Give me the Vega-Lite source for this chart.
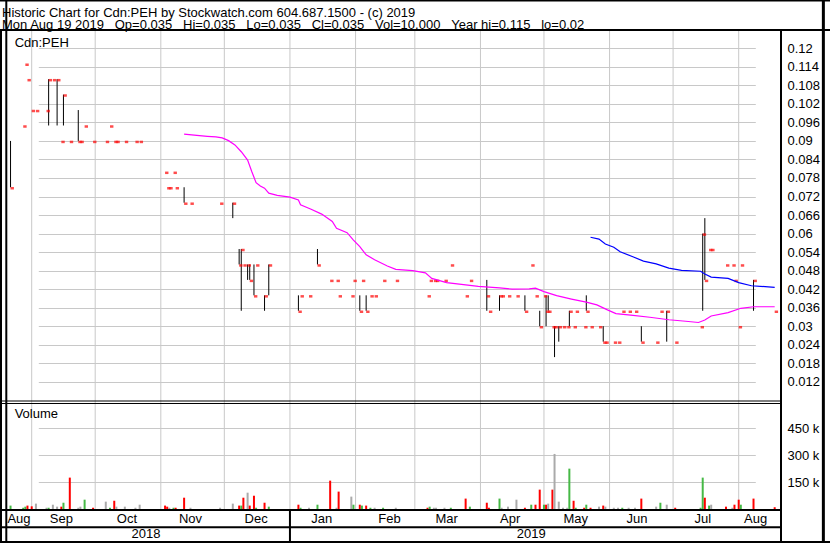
{
  "$schema": "https://vega.github.io/schema/vega-lite/v6.json",
  "width": 780,
  "height": 513,
  "autosize": {"type": "none"},
  "padding": {"left": 1, "top": 30, "right": 49, "bottom": 0},
  "background": "#ffffff",
  "config": {
    "font": "Liberation Sans",
    "view": {"stroke": "#000000", "strokeWidth": 2}
  },
  "title": {
    "text": [
      "Historic Chart for Cdn:PEH by Stockwatch.com 604.687.1500 - (c) 2019",
      "Mon Aug 19 2019\u00a0\u00a0\u00a0Op=0.035\u00a0\u00a0\u00a0Hi=0.035\u00a0\u00a0\u00a0Lo=0.035\u00a0\u00a0\u00a0Cl=0.035\u00a0\u00a0\u00a0Vol=10,000\u00a0\u00a0\u00a0Year hi=0.115\u00a0\u00a0\u00a0lo=0.02"
    ],
    "anchor": "start",
    "frame": "group",
    "orient": "top",
    "offset": -43,
    "dx": 1,
    "font": "Liberation Sans",
    "fontSize": 13,
    "fontWeight": "normal",
    "color": "#000000",
    "lineHeight": 12.4,
    "baseline": "alphabetic"
  },
  "datasets": {
    "daily": [
      {"date": "2018-08-22", "high": 0.09, "low": 0.075, "close": 0.075, "volume": 19000, "change": "up"},
      {"date": "2018-08-28", "high": 0.095, "low": 0.095, "close": 0.095, "volume": 7000, "change": "up"},
      {"date": "2018-08-29", "high": 0.115, "low": 0.115, "close": 0.115, "volume": 13000, "change": "up"},
      {"date": "2018-08-30", "high": 0.11, "low": 0.11, "close": 0.11, "volume": 19000, "change": "down"},
      {"date": "2018-09-01", "high": 0.1, "low": 0.1, "close": 0.1, "volume": 15000, "change": "down"},
      {"date": "2018-09-03", "high": 0.1, "low": 0.1, "close": 0.1, "volume": 30000, "change": "unchanged"},
      {"date": "2018-09-08", "high": 0.1, "low": 0.1, "close": 0.1, "volume": 7000, "change": "unchanged"},
      {"date": "2018-09-09", "high": 0.11, "low": 0.095, "close": 0.11, "volume": 7000, "change": "up"},
      {"date": "2018-09-11", "high": 0.11, "low": 0.11, "close": 0.11, "volume": 24000, "change": "unchanged"},
      {"date": "2018-09-13", "high": 0.11, "low": 0.095, "close": 0.11, "volume": 13000, "change": "unchanged"},
      {"date": "2018-09-15", "high": 0.09, "low": 0.09, "close": 0.09, "volume": 13000, "change": "down"},
      {"date": "2018-09-16", "high": 0.105, "low": 0.095, "close": 0.105, "volume": 35000, "change": "up"},
      {"date": "2018-09-19", "high": 0.09, "low": 0.09, "close": 0.09, "volume": 175000, "change": "down"},
      {"date": "2018-09-23", "high": 0.1, "low": 0.09, "close": 0.09, "volume": 7000, "change": "unchanged"},
      {"date": "2018-09-24", "high": 0.09, "low": 0.09, "close": 0.09, "volume": 13000, "change": "unchanged"},
      {"date": "2018-09-26", "high": 0.095, "low": 0.095, "close": 0.095, "volume": 52000, "change": "up"},
      {"date": "2018-09-30", "high": 0.09, "low": 0.09, "close": 0.09, "volume": 7000, "change": "down"},
      {"date": "2018-10-06", "high": 0.09, "low": 0.09, "close": 0.09, "volume": 41000, "change": "unchanged"},
      {"date": "2018-10-08", "high": 0.095, "low": 0.095, "close": 0.095, "volume": 7000, "change": "up"},
      {"date": "2018-10-10", "high": 0.09, "low": 0.09, "close": 0.09, "volume": 46000, "change": "down"},
      {"date": "2018-10-11", "high": 0.09, "low": 0.09, "close": 0.09, "volume": 13000, "change": "unchanged"},
      {"date": "2018-10-15", "high": 0.09, "low": 0.09, "close": 0.09, "volume": 13000, "change": "unchanged"},
      {"date": "2018-10-20", "high": 0.09, "low": 0.09, "close": 0.09, "volume": 7000, "change": "unchanged"},
      {"date": "2018-10-22", "high": 0.09, "low": 0.09, "close": 0.09, "volume": 24000, "change": "unchanged"},
      {"date": "2018-11-03", "high": 0.08, "low": 0.08, "close": 0.08, "volume": 19000, "change": "down"},
      {"date": "2018-11-04", "high": 0.075, "low": 0.075, "close": 0.075, "volume": 13000, "change": "down"},
      {"date": "2018-11-05", "high": 0.075, "low": 0.075, "close": 0.075, "volume": 7000, "change": "unchanged"},
      {"date": "2018-11-07", "high": 0.08, "low": 0.08, "close": 0.08, "volume": 7000, "change": "up"},
      {"date": "2018-11-08", "high": 0.075, "low": 0.075, "close": 0.075, "volume": 7000, "change": "down"},
      {"date": "2018-11-12", "high": 0.075, "low": 0.07, "close": 0.07, "volume": 63000, "change": "down"},
      {"date": "2018-11-15", "high": 0.07, "low": 0.07, "close": 0.07, "volume": 7000, "change": "unchanged"},
      {"date": "2018-11-29", "high": 0.07, "low": 0.07, "close": 0.07, "volume": 7000, "change": "unchanged"},
      {"date": "2018-12-05", "high": 0.07, "low": 0.065, "close": 0.07, "volume": 30000, "change": "unchanged"},
      {"date": "2018-12-08", "high": 0.055, "low": 0.05, "close": 0.05, "volume": 19000, "change": "down"},
      {"date": "2018-12-09", "high": 0.055, "low": 0.035, "close": 0.055, "volume": 19000, "change": "up"},
      {"date": "2018-12-10", "high": 0.05, "low": 0.05, "close": 0.05, "volume": 63000, "change": "down"},
      {"date": "2018-12-12", "high": 0.05, "low": 0.045, "close": 0.05, "volume": 91000, "change": "unchanged"},
      {"date": "2018-12-13", "high": 0.05, "low": 0.045, "close": 0.045, "volume": 19000, "change": "down"},
      {"date": "2018-12-15", "high": 0.05, "low": 0.04, "close": 0.04, "volume": 74000, "change": "down"},
      {"date": "2018-12-16", "high": 0.05, "low": 0.05, "close": 0.05, "volume": 7000, "change": "up"},
      {"date": "2018-12-20", "high": 0.04, "low": 0.035, "close": 0.04, "volume": 35000, "change": "down"},
      {"date": "2018-12-22", "high": 0.05, "low": 0.04, "close": 0.05, "volume": 13000, "change": "up"},
      {"date": "2019-01-05", "high": 0.04, "low": 0.035, "close": 0.035, "volume": 24000, "change": "down"},
      {"date": "2019-01-06", "high": 0.04, "low": 0.04, "close": 0.04, "volume": 7000, "change": "up"},
      {"date": "2019-01-10", "high": 0.04, "low": 0.04, "close": 0.04, "volume": 7000, "change": "unchanged"},
      {"date": "2019-01-14", "high": 0.055, "low": 0.05, "close": 0.05, "volume": 24000, "change": "up"},
      {"date": "2019-01-20", "high": 0.045, "low": 0.045, "close": 0.045, "volume": 158000, "change": "down"},
      {"date": "2019-01-23", "high": 0.045, "low": 0.045, "close": 0.045, "volume": 7000, "change": "unchanged"},
      {"date": "2019-01-24", "high": 0.04, "low": 0.04, "close": 0.04, "volume": 97000, "change": "down"},
      {"date": "2019-01-30", "high": 0.04, "low": 0.04, "close": 0.04, "volume": 69000, "change": "unchanged"},
      {"date": "2019-01-31", "high": 0.045, "low": 0.045, "close": 0.045, "volume": 24000, "change": "up"},
      {"date": "2019-02-03", "high": 0.04, "low": 0.035, "close": 0.035, "volume": 24000, "change": "down"},
      {"date": "2019-02-04", "high": 0.045, "low": 0.045, "close": 0.045, "volume": 19000, "change": "up"},
      {"date": "2019-02-06", "high": 0.04, "low": 0.035, "close": 0.035, "volume": 19000, "change": "down"},
      {"date": "2019-02-08", "high": 0.04, "low": 0.04, "close": 0.04, "volume": 7000, "change": "up"},
      {"date": "2019-02-10", "high": 0.04, "low": 0.04, "close": 0.04, "volume": 7000, "change": "unchanged"},
      {"date": "2019-02-14", "high": 0.045, "low": 0.045, "close": 0.045, "volume": 7000, "change": "up"},
      {"date": "2019-02-20", "high": 0.045, "low": 0.045, "close": 0.045, "volume": 7000, "change": "unchanged"},
      {"date": "2019-03-07", "high": 0.04, "low": 0.04, "close": 0.04, "volume": 7000, "change": "down"},
      {"date": "2019-03-08", "high": 0.045, "low": 0.045, "close": 0.045, "volume": 13000, "change": "up"},
      {"date": "2019-03-10", "high": 0.045, "low": 0.045, "close": 0.045, "volume": 7000, "change": "unchanged"},
      {"date": "2019-03-11", "high": 0.045, "low": 0.045, "close": 0.045, "volume": 7000, "change": "unchanged"},
      {"date": "2019-03-15", "high": 0.045, "low": 0.045, "close": 0.045, "volume": 7000, "change": "unchanged"},
      {"date": "2019-03-18", "high": 0.05, "low": 0.05, "close": 0.05, "volume": 7000, "change": "up"},
      {"date": "2019-03-25", "high": 0.04, "low": 0.04, "close": 0.04, "volume": 58000, "change": "down"},
      {"date": "2019-03-27", "high": 0.045, "low": 0.045, "close": 0.045, "volume": 13000, "change": "up"},
      {"date": "2019-04-04", "high": 0.045, "low": 0.035, "close": 0.04, "volume": 35000, "change": "down"},
      {"date": "2019-04-05", "high": 0.035, "low": 0.035, "close": 0.035, "volume": 7000, "change": "down"},
      {"date": "2019-04-10", "high": 0.04, "low": 0.035, "close": 0.04, "volume": 58000, "change": "up"},
      {"date": "2019-04-11", "high": 0.04, "low": 0.04, "close": 0.04, "volume": 7000, "change": "unchanged"},
      {"date": "2019-04-14", "high": 0.04, "low": 0.04, "close": 0.04, "volume": 13000, "change": "unchanged"},
      {"date": "2019-04-18", "high": 0.04, "low": 0.04, "close": 0.04, "volume": 52000, "change": "unchanged"},
      {"date": "2019-04-22", "high": 0.04, "low": 0.035, "close": 0.035, "volume": 7000, "change": "down"},
      {"date": "2019-04-25", "high": 0.05, "low": 0.05, "close": 0.05, "volume": 24000, "change": "up"},
      {"date": "2019-04-27", "high": 0.04, "low": 0.04, "close": 0.04, "volume": 24000, "change": "down"},
      {"date": "2019-04-29", "high": 0.035, "low": 0.03, "close": 0.03, "volume": 108000, "change": "down"},
      {"date": "2019-05-01", "high": 0.04, "low": 0.04, "close": 0.04, "volume": 24000, "change": "up"},
      {"date": "2019-05-02", "high": 0.04, "low": 0.03, "close": 0.035, "volume": 24000, "change": "down"},
      {"date": "2019-05-03", "high": 0.04, "low": 0.035, "close": 0.035, "volume": 30000, "change": "unchanged"},
      {"date": "2019-05-05", "high": 0.03, "low": 0.03, "close": 0.03, "volume": 108000, "change": "down"},
      {"date": "2019-05-06", "high": 0.03, "low": 0.02, "close": 0.03, "volume": 307000, "change": "unchanged"},
      {"date": "2019-05-08", "high": 0.03, "low": 0.025, "close": 0.03, "volume": 41000, "change": "unchanged"},
      {"date": "2019-05-10", "high": 0.03, "low": 0.03, "close": 0.03, "volume": 7000, "change": "unchanged"},
      {"date": "2019-05-12", "high": 0.03, "low": 0.03, "close": 0.03, "volume": 7000, "change": "unchanged"},
      {"date": "2019-05-13", "high": 0.035, "low": 0.03, "close": 0.035, "volume": 225000, "change": "up"},
      {"date": "2019-05-15", "high": 0.03, "low": 0.03, "close": 0.03, "volume": 46000, "change": "down"},
      {"date": "2019-05-16", "high": 0.035, "low": 0.035, "close": 0.035, "volume": 7000, "change": "up"},
      {"date": "2019-05-20", "high": 0.03, "low": 0.03, "close": 0.03, "volume": 7000, "change": "down"},
      {"date": "2019-05-21", "high": 0.04, "low": 0.035, "close": 0.035, "volume": 24000, "change": "up"},
      {"date": "2019-05-23", "high": 0.03, "low": 0.03, "close": 0.03, "volume": 7000, "change": "down"},
      {"date": "2019-05-27", "high": 0.03, "low": 0.03, "close": 0.03, "volume": 13000, "change": "unchanged"},
      {"date": "2019-05-29", "high": 0.03, "low": 0.025, "close": 0.025, "volume": 19000, "change": "down"},
      {"date": "2019-05-30", "high": 0.025, "low": 0.025, "close": 0.025, "volume": 13000, "change": "unchanged"},
      {"date": "2019-06-03", "high": 0.025, "low": 0.025, "close": 0.025, "volume": 7000, "change": "unchanged"},
      {"date": "2019-06-05", "high": 0.025, "low": 0.025, "close": 0.025, "volume": 7000, "change": "unchanged"},
      {"date": "2019-06-07", "high": 0.035, "low": 0.035, "close": 0.035, "volume": 7000, "change": "up"},
      {"date": "2019-06-10", "high": 0.035, "low": 0.035, "close": 0.035, "volume": 7000, "change": "unchanged"},
      {"date": "2019-06-13", "high": 0.035, "low": 0.035, "close": 0.035, "volume": 7000, "change": "unchanged"},
      {"date": "2019-06-16", "high": 0.03, "low": 0.025, "close": 0.025, "volume": 58000, "change": "down"},
      {"date": "2019-06-23", "high": 0.025, "low": 0.025, "close": 0.025, "volume": 13000, "change": "unchanged"},
      {"date": "2019-06-25", "high": 0.035, "low": 0.035, "close": 0.035, "volume": 35000, "change": "up"},
      {"date": "2019-06-28", "high": 0.035, "low": 0.025, "close": 0.035, "volume": 24000, "change": "unchanged"},
      {"date": "2019-07-02", "high": 0.025, "low": 0.025, "close": 0.025, "volume": 7000, "change": "down"},
      {"date": "2019-07-14", "high": 0.03, "low": 0.03, "close": 0.03, "volume": 7000, "change": "up"},
      {"date": "2019-07-15", "high": 0.06, "low": 0.035, "close": 0.06, "volume": 175000, "change": "up"},
      {"date": "2019-07-16", "high": 0.065, "low": 0.045, "close": 0.045, "volume": 63000, "change": "down"},
      {"date": "2019-07-18", "high": 0.055, "low": 0.055, "close": 0.055, "volume": 19000, "change": "up"},
      {"date": "2019-07-19", "high": 0.055, "low": 0.055, "close": 0.055, "volume": 24000, "change": "unchanged"},
      {"date": "2019-07-26", "high": 0.05, "low": 0.05, "close": 0.05, "volume": 13000, "change": "down"},
      {"date": "2019-07-29", "high": 0.05, "low": 0.05, "close": 0.05, "volume": 7000, "change": "unchanged"},
      {"date": "2019-07-30", "high": 0.045, "low": 0.045, "close": 0.045, "volume": 24000, "change": "down"},
      {"date": "2019-08-01", "high": 0.03, "low": 0.03, "close": 0.03, "volume": 52000, "change": "down"},
      {"date": "2019-08-02", "high": 0.05, "low": 0.05, "close": 0.05, "volume": 24000, "change": "up"},
      {"date": "2019-08-08", "high": 0.045, "low": 0.035, "close": 0.045, "volume": 58000, "change": "down"},
      {"date": "2019-08-18", "high": 0.035, "low": 0.035, "close": 0.035, "volume": 10000, "change": "down"}
    ],
    "ma": [
      {"date": "2018-11-12", "series": "ma1", "value": 0.0922},
      {"date": "2018-11-18", "series": "ma1", "value": 0.0918},
      {"date": "2018-11-23", "series": "ma1", "value": 0.0915},
      {"date": "2018-11-27", "series": "ma1", "value": 0.0913},
      {"date": "2018-11-30", "series": "ma1", "value": 0.091},
      {"date": "2018-12-03", "series": "ma1", "value": 0.0901},
      {"date": "2018-12-06", "series": "ma1", "value": 0.0887},
      {"date": "2018-12-09", "series": "ma1", "value": 0.0865},
      {"date": "2018-12-12", "series": "ma1", "value": 0.0838},
      {"date": "2018-12-14", "series": "ma1", "value": 0.08},
      {"date": "2018-12-16", "series": "ma1", "value": 0.0765},
      {"date": "2018-12-18", "series": "ma1", "value": 0.0754},
      {"date": "2018-12-20", "series": "ma1", "value": 0.0747},
      {"date": "2018-12-22", "series": "ma1", "value": 0.0731},
      {"date": "2018-12-26", "series": "ma1", "value": 0.0724},
      {"date": "2019-01-01", "series": "ma1", "value": 0.0718},
      {"date": "2019-01-05", "series": "ma1", "value": 0.0709},
      {"date": "2019-01-06", "series": "ma1", "value": 0.0693},
      {"date": "2019-01-11", "series": "ma1", "value": 0.0679},
      {"date": "2019-01-16", "series": "ma1", "value": 0.0663},
      {"date": "2019-01-21", "series": "ma1", "value": 0.0639},
      {"date": "2019-01-23", "series": "ma1", "value": 0.0617},
      {"date": "2019-01-28", "series": "ma1", "value": 0.0603},
      {"date": "2019-01-31", "series": "ma1", "value": 0.0579},
      {"date": "2019-02-03", "series": "ma1", "value": 0.0558},
      {"date": "2019-02-06", "series": "ma1", "value": 0.0531},
      {"date": "2019-02-10", "series": "ma1", "value": 0.0515},
      {"date": "2019-02-16", "series": "ma1", "value": 0.0495},
      {"date": "2019-02-20", "series": "ma1", "value": 0.0484},
      {"date": "2019-02-28", "series": "ma1", "value": 0.048},
      {"date": "2019-03-06", "series": "ma1", "value": 0.0473},
      {"date": "2019-03-09", "series": "ma1", "value": 0.0455},
      {"date": "2019-03-16", "series": "ma1", "value": 0.0441},
      {"date": "2019-03-22", "series": "ma1", "value": 0.0436},
      {"date": "2019-03-31", "series": "ma1", "value": 0.0429},
      {"date": "2019-04-10", "series": "ma1", "value": 0.0424},
      {"date": "2019-04-16", "series": "ma1", "value": 0.042},
      {"date": "2019-04-24", "series": "ma1", "value": 0.0421},
      {"date": "2019-04-27", "series": "ma1", "value": 0.0423},
      {"date": "2019-05-01", "series": "ma1", "value": 0.0412},
      {"date": "2019-05-07", "series": "ma1", "value": 0.0399},
      {"date": "2019-05-14", "series": "ma1", "value": 0.0388},
      {"date": "2019-05-21", "series": "ma1", "value": 0.0378},
      {"date": "2019-05-26", "series": "ma1", "value": 0.0369},
      {"date": "2019-05-31", "series": "ma1", "value": 0.0353},
      {"date": "2019-06-04", "series": "ma1", "value": 0.0341},
      {"date": "2019-06-11", "series": "ma1", "value": 0.0336},
      {"date": "2019-06-20", "series": "ma1", "value": 0.0329},
      {"date": "2019-06-29", "series": "ma1", "value": 0.0321},
      {"date": "2019-07-07", "series": "ma1", "value": 0.0316},
      {"date": "2019-07-13", "series": "ma1", "value": 0.0312},
      {"date": "2019-07-16", "series": "ma1", "value": 0.032},
      {"date": "2019-07-19", "series": "ma1", "value": 0.0333},
      {"date": "2019-07-27", "series": "ma1", "value": 0.0344},
      {"date": "2019-08-02", "series": "ma1", "value": 0.0358},
      {"date": "2019-08-08", "series": "ma1", "value": 0.0363},
      {"date": "2019-08-18", "series": "ma1", "value": 0.0363},
      {"date": "2019-05-23", "series": "ma2", "value": 0.0588},
      {"date": "2019-05-27", "series": "ma2", "value": 0.0582},
      {"date": "2019-05-30", "series": "ma2", "value": 0.0566},
      {"date": "2019-06-03", "series": "ma2", "value": 0.0556},
      {"date": "2019-06-06", "series": "ma2", "value": 0.0541},
      {"date": "2019-06-12", "series": "ma2", "value": 0.0525},
      {"date": "2019-06-17", "series": "ma2", "value": 0.0511},
      {"date": "2019-06-23", "series": "ma2", "value": 0.0502},
      {"date": "2019-06-29", "series": "ma2", "value": 0.0488},
      {"date": "2019-07-05", "series": "ma2", "value": 0.0481},
      {"date": "2019-07-14", "series": "ma2", "value": 0.0478},
      {"date": "2019-07-16", "series": "ma2", "value": 0.0469},
      {"date": "2019-07-19", "series": "ma2", "value": 0.0459},
      {"date": "2019-07-27", "series": "ma2", "value": 0.0455},
      {"date": "2019-08-01", "series": "ma2", "value": 0.0441},
      {"date": "2019-08-07", "series": "ma2", "value": 0.0431},
      {"date": "2019-08-18", "series": "ma2", "value": 0.0426}
    ],
    "monthStarts": [
      {"date": "2018-09-01"}, {"date": "2018-10-01"}, {"date": "2018-11-01"}, {"date": "2018-12-01"},
      {"date": "2019-01-01"}, {"date": "2019-02-01"}, {"date": "2019-03-01"}, {"date": "2019-04-01"},
      {"date": "2019-05-01"}, {"date": "2019-06-01"}, {"date": "2019-07-01"}, {"date": "2019-08-01"}
    ],
    "monthLabels": [
      {"month": "Aug", "date": "2018-08-26"},
      {"month": "Sep", "date": "2018-09-15"},
      {"month": "Oct", "date": "2018-10-16"},
      {"month": "Nov", "date": "2018-11-15"},
      {"month": "Dec", "date": "2018-12-16"},
      {"month": "Jan", "date": "2019-01-16"},
      {"month": "Feb", "date": "2019-02-17"},
      {"month": "Mar", "date": "2019-03-16"},
      {"month": "Apr", "date": "2019-04-15"},
      {"month": "May", "date": "2019-05-16"},
      {"month": "Jun", "date": "2019-06-14"},
      {"month": "Jul", "date": "2019-07-15"},
      {"month": "Aug", "date": "2019-08-09"}
    ],
    "yearLabels": [
      {"year": "2018", "date": "2018-10-25"},
      {"year": "2019", "date": "2019-04-25"}
    ]
  },
  "layer": [
    {
      "layer": [
        {
          "data": {"name": "monthStarts"},
          "mark": {"type": "rule", "color": "#c8c8c8", "strokeWidth": 1},
          "encoding": {
            "x": {"field": "date", "type": "temporal", "scale": {"domain": [{"year": 2018, "month": 9, "date": 1, "utc": true}, {"year": 2019, "month": 8, "date": 1, "utc": true}], "range": [25.7, 742.7]}, "axis": null},
            "y": {"datum": 0.12593, "type": "quantitative", "scale": {"domain": [0.012, 0.12], "range": [351.8, 18.3], "zero": false, "nice": false}},
            "y2": {"datum": -0.02952}
          }
        },
        {
          "data": {"name": "daily"},
          "mark": {"type": "rule", "color": "#000000", "strokeWidth": 1},
          "encoding": {
            "x": {"field": "date", "type": "temporal"},
            "y": {
              "field": "low", "type": "quantitative",
              "axis": {
                "orient": "right",
                "values": [0.012, 0.018, 0.024, 0.03, 0.036, 0.042, 0.048, 0.054, 0.06, 0.066, 0.072, 0.078, 0.084, 0.09, 0.096, 0.102, 0.108, 0.114, 0.12],
                "tickCount": 40,
                "format": "~g",
                "grid": true, "gridColor": "#c8c8c8", "gridWidth": 1,
                "ticks": false, "tickSize": 0, "domain": false,
                "labelPadding": 6, "labelFontSize": 13, "labelFont": "Liberation Sans", "labelColor": "#000000",
                "labelOverlap": false, "title": null
              }
            },
            "y2": {"field": "high"}
          }
        },
        {
          "data": {"name": "daily"},
          "mark": {"type": "tick", "orient": "horizontal", "color": "#ff0000", "size": 3.4, "thickness": 2.5, "xOffset": 1.7, "yOffset": 1},
          "encoding": {
            "x": {"field": "date", "type": "temporal"},
            "y": {"field": "close", "type": "quantitative"}
          }
        },
        {
          "data": {"name": "ma"},
          "mark": {"type": "line", "strokeWidth": 1.2},
          "encoding": {
            "x": {"field": "date", "type": "temporal"},
            "y": {"field": "value", "type": "quantitative"},
            "color": {"field": "series", "type": "nominal", "scale": {"domain": ["ma1", "ma2"], "range": ["#ff00ff", "#0000ff"]}, "legend": null}
          }
        },
        {
          "data": {"values": [{"label": "Cdn:PEH"}]},
          "mark": {"type": "text", "align": "left", "baseline": "alphabetic", "fontSize": 13, "dx": 2, "color": "#000000"},
          "encoding": {
            "x": {"datum": {"year": 2018, "month": 8, "date": 23, "utc": true}, "type": "temporal"},
            "y": {"datum": 0.12052, "type": "quantitative"},
            "text": {"field": "label"}
          }
        },
        {
          "data": {"values": [{"edge": "top"}]},
          "mark": {"type": "rule", "color": "#000000", "strokeWidth": 2},
          "encoding": {
            "x": {"datum": {"year": 2018, "month": 8, "date": 1, "utc": true}, "type": "temporal"},
            "x2": {"datum": {"year": 2019, "month": 9, "date": 30, "utc": true}},
            "y": {"datum": 0.13548, "type": "quantitative"}
          }
        },
        {
          "data": {"values": [{"edge": "header"}]},
          "mark": {"type": "rule", "color": "#000000", "strokeWidth": 2},
          "encoding": {
            "x": {"datum": {"year": 2018, "month": 8, "date": 1, "utc": true}, "type": "temporal"},
            "x2": {"datum": {"year": 2019, "month": 9, "date": 30, "utc": true}},
            "y": {"datum": 0.12593, "type": "quantitative"}
          }
        },
        {
          "data": {"values": [{"edge": "bottom"}]},
          "mark": {"type": "rule", "color": "#000000", "strokeWidth": 2},
          "encoding": {
            "x": {"datum": {"year": 2018, "month": 8, "date": 1, "utc": true}, "type": "temporal"},
            "x2": {"datum": {"year": 2019, "month": 9, "date": 30, "utc": true}},
            "y": {"datum": -0.03988, "type": "quantitative"}
          }
        },
        {
          "data": {"values": [{"edge": "left"}]},
          "mark": {"type": "rule", "color": "#000000", "strokeWidth": 2},
          "encoding": {
            "x": {"datum": {"year": 2018, "month": 8, "date": 20, "utc": true}, "type": "temporal"},
            "y": {"datum": 0.13548, "type": "quantitative"},
            "y2": {"datum": -0.0415}
          }
        },
        {
          "data": {"values": [{"edge": "right"}]},
          "mark": {"type": "rule", "color": "#000000", "strokeWidth": 3},
          "encoding": {
            "x": {"datum": {"year": 2019, "month": 9, "date": 10, "utc": true}, "type": "temporal"},
            "y": {"datum": 0.13548, "type": "quantitative"},
            "y2": {"datum": -0.0415}
          }
        }
      ]
    },
    {
      "layer": [
        {
          "data": {"name": "daily"},
          "mark": {"type": "bar", "width": 2},
          "encoding": {
            "x": {"field": "date", "type": "temporal"},
            "y": {
              "field": "volume", "type": "quantitative", "stack": null,
              "scale": {"domain": [0, 450000], "range": [479, 398.3], "nice": false},
              "axis": {
                "orient": "right",
                "values": [150000, 300000, 450000],
                "tickCount": 40,
                "labelExpr": "datum.value / 1000 + ' k'",
                "grid": true, "gridColor": "#c8c8c8", "gridWidth": 1,
                "ticks": false, "tickSize": 0, "domain": false,
                "labelPadding": 6, "labelFontSize": 13, "labelFont": "Liberation Sans", "labelColor": "#000000",
                "labelOverlap": false, "title": null
              }
            },
            "color": {"field": "change", "type": "nominal", "scale": {"domain": ["up", "down", "unchanged"], "range": ["#46b946", "#ff0000", "#aaaaaa"]}, "legend": null}
          }
        },
        {
          "data": {"values": [{"edge": "panel1"}]},
          "mark": {"type": "rule", "color": "#000000", "strokeWidth": 1.2},
          "encoding": {"y": {"datum": 602200, "type": "quantitative"}}
        },
        {
          "data": {"values": [{"edge": "panel2"}]},
          "mark": {"type": "rule", "color": "#000000", "strokeWidth": 1.2},
          "encoding": {"y": {"datum": 588300, "type": "quantitative"}}
        },
        {
          "data": {"values": [{"label": "Volume"}]},
          "mark": {"type": "text", "align": "left", "baseline": "alphabetic", "fontSize": 13, "dx": 2, "color": "#000000"},
          "encoding": {
            "x": {"datum": {"year": 2018, "month": 8, "date": 23, "utc": true}, "type": "temporal"},
            "y": {"datum": 509100, "type": "quantitative"},
            "text": {"field": "label"}
          }
        }
      ]
    },
    {
      "layer": [
        {
          "data": {"name": "monthLabels"},
          "mark": {"type": "text", "fontSize": 13, "baseline": "middle", "align": "center", "color": "#000000"},
          "encoding": {
            "x": {"field": "date", "type": "temporal"},
            "y": {"datum": 0.5, "type": "quantitative", "scale": {"domain": [0, 2], "range": [480, 514.6], "nice": false, "zero": false}, "axis": null},
            "text": {"field": "month"}
          }
        },
        {
          "data": {"name": "yearLabels"},
          "mark": {"type": "text", "fontSize": 13, "baseline": "middle", "align": "center", "color": "#000000"},
          "encoding": {
            "x": {"field": "date", "type": "temporal"},
            "y": {"datum": 1.4, "type": "quantitative", "axis": null},
            "text": {"field": "year"}
          }
        },
        {
          "data": {"values": [{"edge": "monthTop"}]},
          "mark": {"type": "rule", "color": "#000000", "strokeWidth": 2},
          "encoding": {"y": {"datum": 0, "type": "quantitative", "axis": null}}
        },
        {
          "data": {"values": [{"edge": "yearTop"}]},
          "mark": {"type": "rule", "color": "#000000", "strokeWidth": 2},
          "encoding": {"y": {"datum": 1, "type": "quantitative", "axis": null}}
        },
        {
          "data": {"values": [{"edge": "yearSplit"}]},
          "mark": {"type": "rule", "color": "#000000", "strokeWidth": 2},
          "encoding": {
            "x": {"datum": {"year": 2019, "month": 1, "date": 1, "utc": true}, "type": "temporal"},
            "y": {"datum": 0, "type": "quantitative", "axis": null},
            "y2": {"datum": 2}
          }
        }
      ]
    }
  ],
  "resolve": {"scale": {"y": "independent", "color": "independent"}, "axis": {"y": "independent"}}
}
